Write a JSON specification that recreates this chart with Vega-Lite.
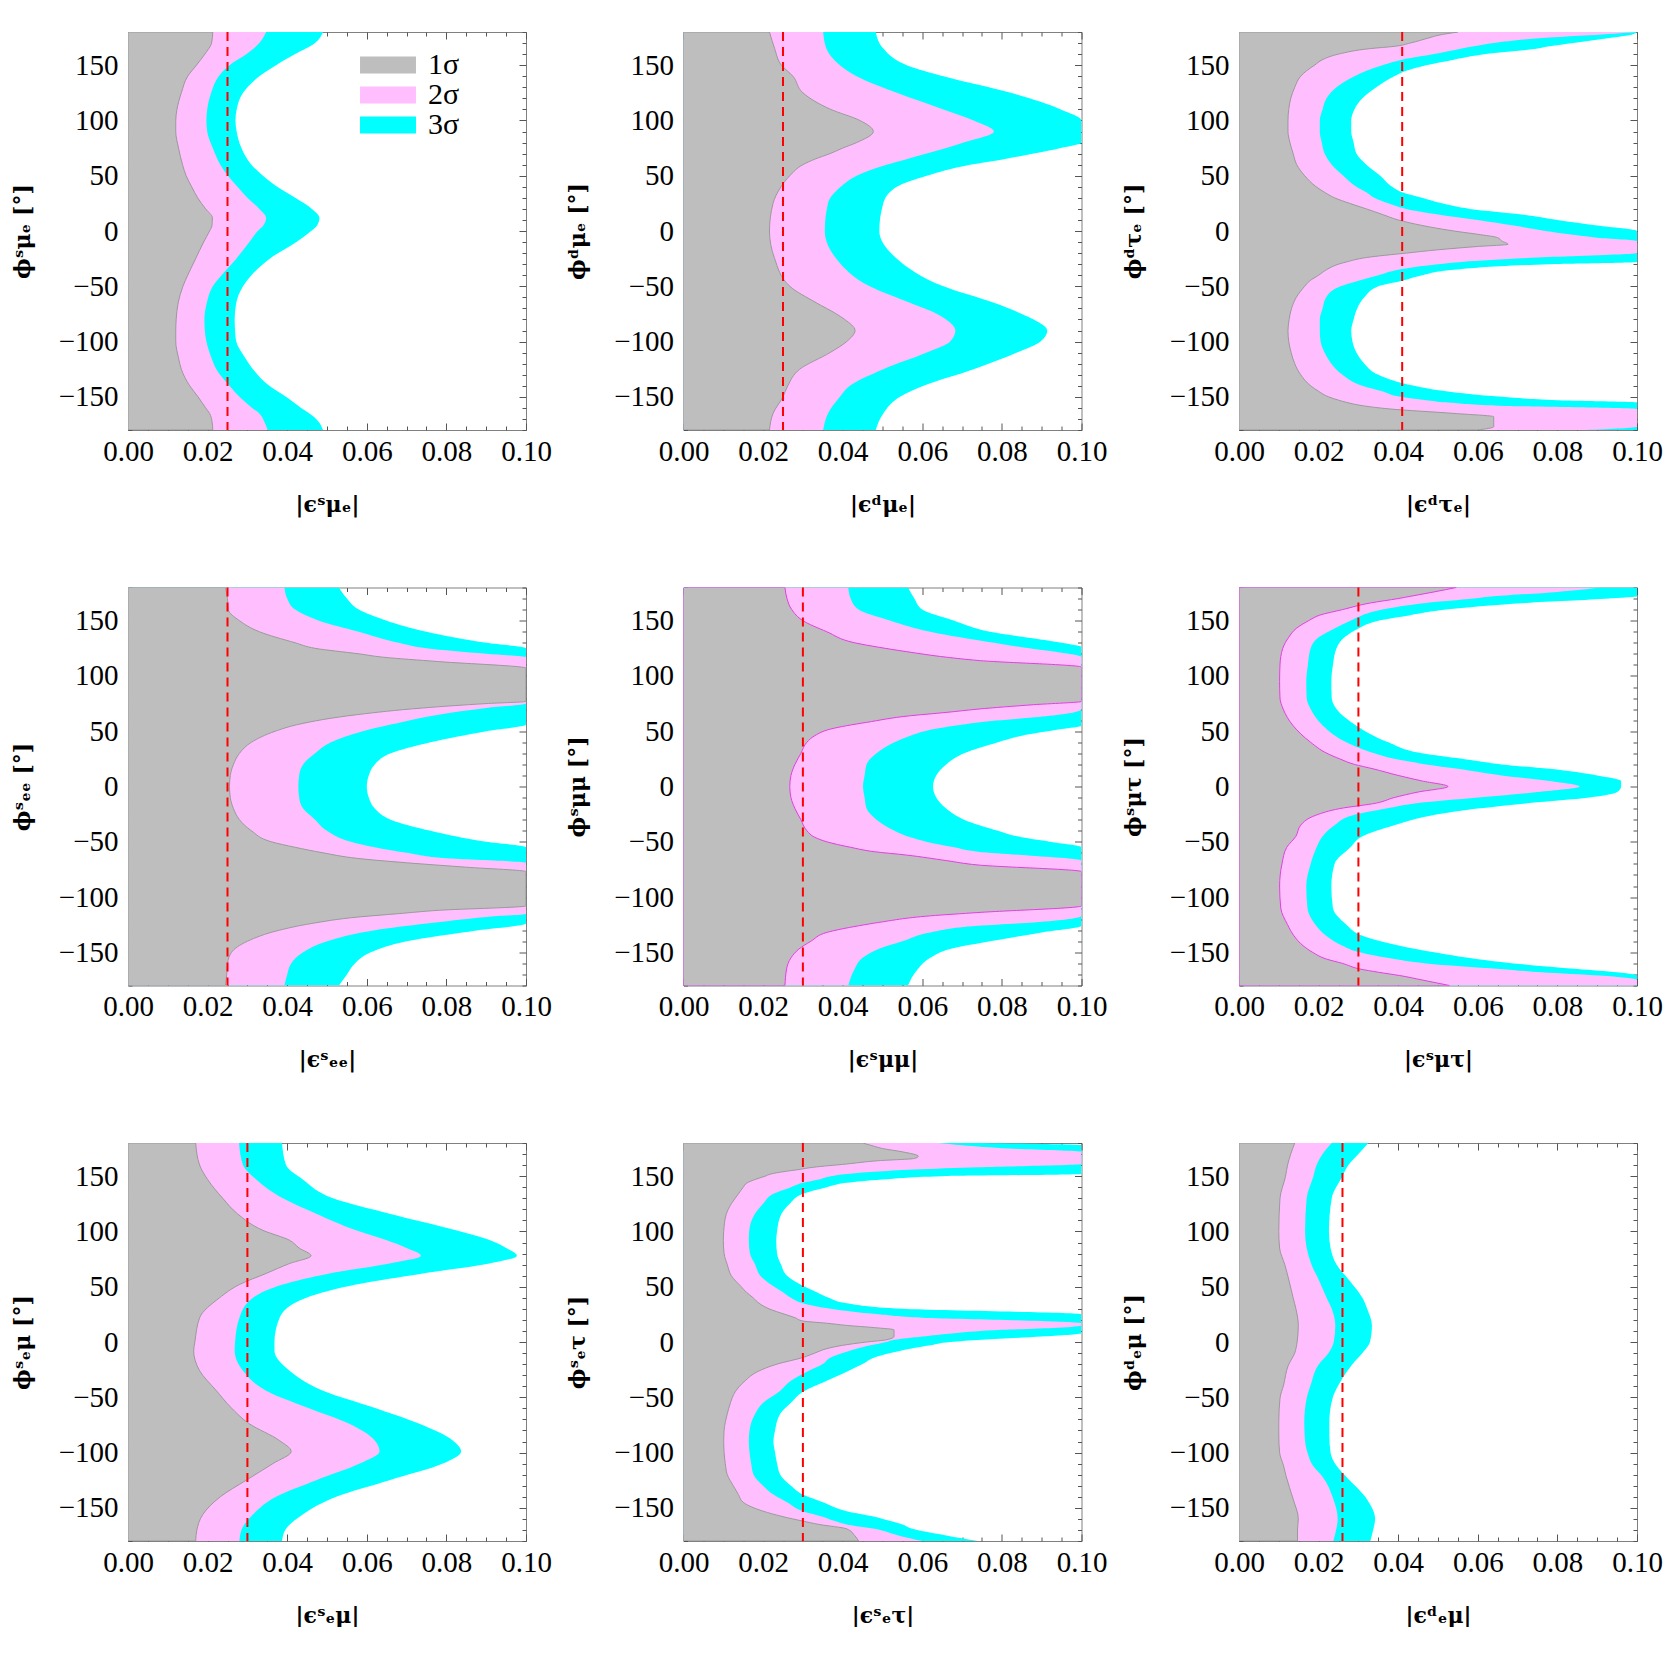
{
"$schema": "https://vega.github.io/schema/vega-lite/v6.json",
"background": "white",
"padding": {"left": 10, "top": 30, "right": 0, "bottom": 0},
"autosize": {"type": "pad"},
"config": {
  "view": {"stroke": "#808080", "strokeWidth": 1},
  "axis": {"grid": false, "domain": false, "labelFont": "Liberation Serif", "labelFontSize": 29, "labelColor": "#000000", "titleFont": "DejaVu Serif", "titleFontSize": 22, "titleFontWeight": "bold", "titleColor": "#000000", "tickColor": "#555555", "tickWidth": 1},
  "area": {"interpolate": "monotone"}
},
"datasets": {
"lines": [{"p":1,"x":0.025},{"p":2,"x":0.025},{"p":3,"x":0.041},{"p":4,"x":0.025},{"p":5,"x":0.030},{"p":6,"x":0.030},{"p":7,"x":0.030},{"p":8,"x":0.030},{"p":9,"x":0.026}],
"bands": [
{"p":1,"y":180,"a":0.0213,"b":0.0347,"c":0.049},
{"p":1,"y":170,"a":0.021,"b":0.033,"c":0.047},
{"p":1,"y":160,"a":0.0193,"b":0.0298,"c":0.042},
{"p":1,"y":150,"a":0.0172,"b":0.0255,"c":0.0372},
{"p":1,"y":140,"a":0.015,"b":0.0228,"c":0.033},
{"p":1,"y":125,"a":0.0134,"b":0.0209,"c":0.0289},
{"p":1,"y":110,"a":0.0123,"b":0.0199,"c":0.0273},
{"p":1,"y":100,"a":0.012,"b":0.0197,"c":0.027},
{"p":1,"y":90,"a":0.012,"b":0.0199,"c":0.0273},
{"p":1,"y":75,"a":0.0127,"b":0.0213,"c":0.0285},
{"p":1,"y":60,"a":0.0137,"b":0.0232,"c":0.031},
{"p":1,"y":50,"a":0.0146,"b":0.0251,"c":0.0339},
{"p":1,"y":40,"a":0.016,"b":0.0275,"c":0.0375},
{"p":1,"y":30,"a":0.0175,"b":0.03,"c":0.042},
{"p":1,"y":20,"a":0.0195,"b":0.033,"c":0.0462},
{"p":1,"y":12,"a":0.0212,"b":0.0347,"c":0.0481},
{"p":1,"y":5,"a":0.0211,"b":0.034,"c":0.0475},
{"p":1,"y":0,"a":0.0205,"b":0.0326,"c":0.046},
{"p":1,"y":-10,"a":0.019,"b":0.0305,"c":0.0423},
{"p":1,"y":-25,"a":0.017,"b":0.0272,"c":0.0356},
{"p":1,"y":-40,"a":0.015,"b":0.0235,"c":0.031},
{"p":1,"y":-50,"a":0.0138,"b":0.0213,"c":0.0289},
{"p":1,"y":-65,"a":0.0126,"b":0.0198,"c":0.0272},
{"p":1,"y":-80,"a":0.0121,"b":0.0192,"c":0.0268},
{"p":1,"y":-90,"a":0.012,"b":0.0193,"c":0.0269},
{"p":1,"y":-100,"a":0.012,"b":0.0197,"c":0.0272},
{"p":1,"y":-115,"a":0.0127,"b":0.021,"c":0.0295},
{"p":1,"y":-125,"a":0.0134,"b":0.0222,"c":0.0314},
{"p":1,"y":-140,"a":0.0155,"b":0.0255,"c":0.0355},
{"p":1,"y":-150,"a":0.0176,"b":0.028,"c":0.0397},
{"p":1,"y":-160,"a":0.0195,"b":0.0312,"c":0.0435},
{"p":1,"y":-165,"a":0.0205,"b":0.033,"c":0.0456},
{"p":1,"y":-172,"a":0.0211,"b":0.0342,"c":0.0478},
{"p":1,"y":-180,"a":0.0213,"b":0.0351,"c":0.049},
{"p":2,"y":180,"a":0.0216,"b":0.0351,"c":0.0483},
{"p":2,"y":165,"a":0.0229,"b":0.0359,"c":0.0502},
{"p":2,"y":150,"a":0.0246,"b":0.0393,"c":0.0561},
{"p":2,"y":140,"a":0.0275,"b":0.0435,"c":0.0653},
{"p":2,"y":125,"a":0.03,"b":0.0536,"c":0.0822},
{"p":2,"y":110,"a":0.037,"b":0.0653,"c":0.0948},
{"p":2,"y":100,"a":0.0443,"b":0.0729,"c":0.1},
{"p":2,"y":90,"a":0.0477,"b":0.078,"c":0.1},
{"p":2,"y":80,"a":0.0435,"b":0.0704,"c":0.1},
{"p":2,"y":75,"a":0.04,"b":0.066,"c":0.0948},
{"p":2,"y":70,"a":0.0368,"b":0.0611,"c":0.088},
{"p":2,"y":65,"a":0.033,"b":0.056,"c":0.0805},
{"p":2,"y":60,"a":0.03,"b":0.051,"c":0.072},
{"p":2,"y":50,"a":0.0267,"b":0.0435,"c":0.0611},
{"p":2,"y":40,"a":0.0245,"b":0.0395,"c":0.0536},
{"p":2,"y":25,"a":0.0225,"b":0.0363,"c":0.0502},
{"p":2,"y":0,"a":0.0216,"b":0.0355,"c":0.0492},
{"p":2,"y":-25,"a":0.0229,"b":0.0384,"c":0.0536},
{"p":2,"y":-50,"a":0.0267,"b":0.0468,"c":0.0653},
{"p":2,"y":-65,"a":0.0334,"b":0.0569,"c":0.078},
{"p":2,"y":-75,"a":0.0384,"b":0.0637,"c":0.085},
{"p":2,"y":-80,"a":0.0405,"b":0.066,"c":0.088},
{"p":2,"y":-90,"a":0.0431,"b":0.0683,"c":0.0914},
{"p":2,"y":-100,"a":0.041,"b":0.067,"c":0.0897},
{"p":2,"y":-110,"a":0.0368,"b":0.0611,"c":0.0838},
{"p":2,"y":-125,"a":0.0292,"b":0.0502,"c":0.0729},
{"p":2,"y":-140,"a":0.0262,"b":0.0418,"c":0.0603},
{"p":2,"y":-150,"a":0.025,"b":0.0393,"c":0.0544},
{"p":2,"y":-165,"a":0.0225,"b":0.0363,"c":0.0502},
{"p":2,"y":-180,"a":0.0216,"b":0.0351,"c":0.0483},
{"p":3,"y":180,"a":0.055,"b":0.1,"c":0.1},
{"p":3,"y":177,"a":0.05,"b":0.088,"c":0.098},
{"p":3,"y":175,"a":0.048,"b":0.078,"c":0.094},
{"p":3,"y":170,"a":0.043,"b":0.064,"c":0.084},
{"p":3,"y":167,"a":0.039,"b":0.059,"c":0.078},
{"p":3,"y":165,"a":0.033,"b":0.056,"c":0.075},
{"p":3,"y":160,"a":0.025,"b":0.049,"c":0.062},
{"p":3,"y":155,"a":0.021,"b":0.041,"c":0.054},
{"p":3,"y":150,"a":0.019,"b":0.036,"c":0.047},
{"p":3,"y":145,"a":0.017,"b":0.032,"c":0.042},
{"p":3,"y":140,"a":0.0155,"b":0.029,"c":0.039},
{"p":3,"y":130,"a":0.014,"b":0.0245,"c":0.0345},
{"p":3,"y":120,"a":0.013,"b":0.022,"c":0.031},
{"p":3,"y":110,"a":0.0125,"b":0.021,"c":0.029},
{"p":3,"y":100,"a":0.0123,"b":0.0203,"c":0.0282},
{"p":3,"y":90,"a":0.0123,"b":0.0203,"c":0.0282},
{"p":3,"y":80,"a":0.0128,"b":0.0208,"c":0.0288},
{"p":3,"y":70,"a":0.0136,"b":0.0215,"c":0.0295},
{"p":3,"y":60,"a":0.0145,"b":0.0233,"c":0.032},
{"p":3,"y":50,"a":0.0165,"b":0.0262,"c":0.0355},
{"p":3,"y":40,"a":0.0194,"b":0.0295,"c":0.0385},
{"p":3,"y":35,"a":0.0215,"b":0.032,"c":0.041},
{"p":3,"y":30,"a":0.024,"b":0.034,"c":0.046},
{"p":3,"y":25,"a":0.0278,"b":0.0375,"c":0.051},
{"p":3,"y":20,"a":0.032,"b":0.042,"c":0.058},
{"p":3,"y":15,"a":0.036,"b":0.05,"c":0.071},
{"p":3,"y":10,"a":0.04,"b":0.06,"c":0.08},
{"p":3,"y":5,"a":0.046,"b":0.069,"c":0.09},
{"p":3,"y":0,"a":0.054,"b":0.077,"c":0.1},
{"p":3,"y":-3,"a":0.06,"b":0.083,"c":0.1},
{"p":3,"y":-6,"a":0.065,"b":0.09,"c":0.1},
{"p":3,"y":-9,"a":0.066,"b":0.1,"c":0.1},
{"p":3,"y":-12,"a":0.0676,"b":0.1,"c":0.1},
{"p":3,"y":-14,"a":0.06,"b":0.1,"c":0.1},
{"p":3,"y":-17,"a":0.05,"b":0.1,"c":0.1},
{"p":3,"y":-20,"a":0.042,"b":0.1,"c":0.1},
{"p":3,"y":-24,"a":0.032,"b":0.075,"c":0.1},
{"p":3,"y":-28,"a":0.027,"b":0.056,"c":0.1},
{"p":3,"y":-30,"a":0.025,"b":0.05,"c":0.078},
{"p":3,"y":-35,"a":0.022,"b":0.04,"c":0.054},
{"p":3,"y":-40,"a":0.02,"b":0.035,"c":0.046},
{"p":3,"y":-45,"a":0.0178,"b":0.03,"c":0.041},
{"p":3,"y":-50,"a":0.0165,"b":0.0255,"c":0.035},
{"p":3,"y":-60,"a":0.0144,"b":0.0219,"c":0.0315},
{"p":3,"y":-70,"a":0.0132,"b":0.021,"c":0.0297},
{"p":3,"y":-80,"a":0.0126,"b":0.0203,"c":0.0288},
{"p":3,"y":-90,"a":0.0123,"b":0.0203,"c":0.0282},
{"p":3,"y":-100,"a":0.0125,"b":0.0205,"c":0.0285},
{"p":3,"y":-110,"a":0.0131,"b":0.0215,"c":0.0295},
{"p":3,"y":-120,"a":0.014,"b":0.0232,"c":0.0315},
{"p":3,"y":-130,"a":0.0155,"b":0.026,"c":0.035},
{"p":3,"y":-140,"a":0.018,"b":0.031,"c":0.044},
{"p":3,"y":-145,"a":0.02,"b":0.036,"c":0.052},
{"p":3,"y":-150,"a":0.0225,"b":0.0405,"c":0.066},
{"p":3,"y":-153,"a":0.025,"b":0.047,"c":0.08},
{"p":3,"y":-155,"a":0.027,"b":0.052,"c":0.1},
{"p":3,"y":-158,"a":0.031,"b":0.065,"c":0.1},
{"p":3,"y":-161,"a":0.038,"b":0.1,"c":0.1},
{"p":3,"y":-165,"a":0.054,"b":0.1,"c":0.1},
{"p":3,"y":-168,"a":0.064,"b":0.1,"c":0.1},
{"p":3,"y":-177,"a":0.064,"b":0.1,"c":0.1},
{"p":3,"y":-180,"a":0.06,"b":0.087,"c":0.1},
{"p":4,"y":180,"a":0.0245,"b":0.0393,"c":0.053},
{"p":4,"y":170,"a":0.025,"b":0.04,"c":0.055},
{"p":4,"y":160,"a":0.0252,"b":0.042,"c":0.058},
{"p":4,"y":150,"a":0.028,"b":0.048,"c":0.065},
{"p":4,"y":140,"a":0.033,"b":0.058,"c":0.075},
{"p":4,"y":130,"a":0.042,"b":0.068,"c":0.09},
{"p":4,"y":125,"a":0.047,"b":0.075,"c":0.1},
{"p":4,"y":120,"a":0.058,"b":0.09,"c":0.1},
{"p":4,"y":117,"a":0.064,"b":0.1,"c":0.1},
{"p":4,"y":113,"a":0.078,"b":0.1,"c":0.1},
{"p":4,"y":107,"a":0.1,"b":0.1,"c":0.1},
{"p":4,"y":77,"a":0.1,"b":0.1,"c":0.1},
{"p":4,"y":75,"a":0.09,"b":0.1,"c":0.1},
{"p":4,"y":71,"a":0.074,"b":0.09,"c":0.1},
{"p":4,"y":65,"a":0.0576,"b":0.078,"c":0.1},
{"p":4,"y":56,"a":0.0426,"b":0.066,"c":0.1},
{"p":4,"y":50,"a":0.037,"b":0.059,"c":0.09},
{"p":4,"y":40,"a":0.031,"b":0.051,"c":0.076},
{"p":4,"y":30,"a":0.028,"b":0.047,"c":0.066},
{"p":4,"y":20,"a":0.0265,"b":0.044,"c":0.062},
{"p":4,"y":10,"a":0.0257,"b":0.043,"c":0.0605},
{"p":4,"y":0,"a":0.0255,"b":0.0428,"c":0.06},
{"p":4,"y":-10,"a":0.0257,"b":0.043,"c":0.0605},
{"p":4,"y":-20,"a":0.0265,"b":0.044,"c":0.062},
{"p":4,"y":-30,"a":0.028,"b":0.047,"c":0.066},
{"p":4,"y":-40,"a":0.031,"b":0.05,"c":0.076},
{"p":4,"y":-50,"a":0.036,"b":0.056,"c":0.09},
{"p":4,"y":-55,"a":0.042,"b":0.062,"c":0.1},
{"p":4,"y":-60,"a":0.049,"b":0.07,"c":0.1},
{"p":4,"y":-65,"a":0.0576,"b":0.08,"c":0.1},
{"p":4,"y":-69,"a":0.07,"b":0.1,"c":0.1},
{"p":4,"y":-73,"a":0.085,"b":0.1,"c":0.1},
{"p":4,"y":-77,"a":0.1,"b":0.1,"c":0.1},
{"p":4,"y":-108,"a":0.1,"b":0.1,"c":0.1},
{"p":4,"y":-112,"a":0.078,"b":0.1,"c":0.1},
{"p":4,"y":-115,"a":0.068,"b":0.1,"c":0.1},
{"p":4,"y":-118,"a":0.058,"b":0.09,"c":0.1},
{"p":4,"y":-124,"a":0.046,"b":0.075,"c":0.1},
{"p":4,"y":-130,"a":0.038,"b":0.062,"c":0.088},
{"p":4,"y":-140,"a":0.03,"b":0.05,"c":0.07},
{"p":4,"y":-150,"a":0.026,"b":0.044,"c":0.061},
{"p":4,"y":-160,"a":0.025,"b":0.041,"c":0.057},
{"p":4,"y":-170,"a":0.0248,"b":0.04,"c":0.055},
{"p":4,"y":-180,"a":0.0245,"b":0.0393,"c":0.053},
{"p":5,"y":180,"a":0.0255,"b":0.0414,"c":0.0564},
{"p":5,"y":170,"a":0.026,"b":0.042,"c":0.058},
{"p":5,"y":160,"a":0.0272,"b":0.044,"c":0.06},
{"p":5,"y":150,"a":0.03,"b":0.052,"c":0.068},
{"p":5,"y":140,"a":0.036,"b":0.062,"c":0.077},
{"p":5,"y":130,"a":0.043,"b":0.078,"c":0.095},
{"p":5,"y":126,"a":0.049,"b":0.085,"c":0.1},
{"p":5,"y":122,"a":0.056,"b":0.093,"c":0.1},
{"p":5,"y":117,"a":0.066,"b":0.1,"c":0.1},
{"p":5,"y":114,"a":0.074,"b":0.1,"c":0.1},
{"p":5,"y":108,"a":0.1,"b":0.1,"c":0.1},
{"p":5,"y":77,"a":0.1,"b":0.1,"c":0.1},
{"p":5,"y":74,"a":0.088,"b":0.1,"c":0.1},
{"p":5,"y":70,"a":0.074,"b":0.1,"c":0.1},
{"p":5,"y":67,"a":0.066,"b":0.098,"c":0.1},
{"p":5,"y":64,"a":0.057,"b":0.092,"c":0.1},
{"p":5,"y":58,"a":0.046,"b":0.074,"c":0.1},
{"p":5,"y":55,"a":0.041,"b":0.068,"c":0.1},
{"p":5,"y":52,"a":0.037,"b":0.063,"c":0.095},
{"p":5,"y":46,"a":0.033,"b":0.057,"c":0.085},
{"p":5,"y":40,"a":0.031,"b":0.053,"c":0.079},
{"p":5,"y":30,"a":0.0295,"b":0.0485,"c":0.0705},
{"p":5,"y":20,"a":0.028,"b":0.046,"c":0.066},
{"p":5,"y":10,"a":0.027,"b":0.0455,"c":0.0635},
{"p":5,"y":0,"a":0.0267,"b":0.0451,"c":0.0627},
{"p":5,"y":-10,"a":0.027,"b":0.0455,"c":0.0635},
{"p":5,"y":-20,"a":0.028,"b":0.046,"c":0.066},
{"p":5,"y":-30,"a":0.0295,"b":0.0485,"c":0.0705},
{"p":5,"y":-40,"a":0.031,"b":0.053,"c":0.079},
{"p":5,"y":-46,"a":0.033,"b":0.057,"c":0.085},
{"p":5,"y":-50,"a":0.036,"b":0.061,"c":0.092},
{"p":5,"y":-55,"a":0.042,"b":0.068,"c":0.1},
{"p":5,"y":-59,"a":0.048,"b":0.074,"c":0.1},
{"p":5,"y":-62,"a":0.056,"b":0.085,"c":0.1},
{"p":5,"y":-67,"a":0.066,"b":0.1,"c":0.1},
{"p":5,"y":-71,"a":0.074,"b":0.1,"c":0.1},
{"p":5,"y":-77,"a":0.1,"b":0.1,"c":0.1},
{"p":5,"y":-108,"a":0.1,"b":0.1,"c":0.1},
{"p":5,"y":-114,"a":0.074,"b":0.1,"c":0.1},
{"p":5,"y":-117,"a":0.062,"b":0.1,"c":0.1},
{"p":5,"y":-123,"a":0.049,"b":0.088,"c":0.1},
{"p":5,"y":-126,"a":0.044,"b":0.074,"c":0.1},
{"p":5,"y":-132,"a":0.036,"b":0.062,"c":0.09},
{"p":5,"y":-140,"a":0.032,"b":0.055,"c":0.077},
{"p":5,"y":-147,"a":0.029,"b":0.049,"c":0.067},
{"p":5,"y":-155,"a":0.027,"b":0.045,"c":0.062},
{"p":5,"y":-165,"a":0.0259,"b":0.043,"c":0.0589},
{"p":5,"y":-180,"a":0.0255,"b":0.0414,"c":0.0564},
{"p":6,"y":180,"a":0.0546,"b":0.091,"c":0.1},
{"p":6,"y":176,"a":0.049,"b":0.08,"c":0.1},
{"p":6,"y":172,"a":0.043,"b":0.064,"c":0.1},
{"p":6,"y":170,"a":0.04,"b":0.059,"c":0.093},
{"p":6,"y":166,"a":0.033,"b":0.047,"c":0.072},
{"p":6,"y":160,"a":0.026,"b":0.036,"c":0.052},
{"p":6,"y":155,"a":0.0203,"b":0.031,"c":0.043},
{"p":6,"y":150,"a":0.0175,"b":0.028,"c":0.035},
{"p":6,"y":143,"a":0.0144,"b":0.024,"c":0.03},
{"p":6,"y":135,"a":0.0125,"b":0.02,"c":0.0265},
{"p":6,"y":125,"a":0.011,"b":0.018,"c":0.0245},
{"p":6,"y":110,"a":0.0103,"b":0.0173,"c":0.0236},
{"p":6,"y":95,"a":0.0102,"b":0.0169,"c":0.0232},
{"p":6,"y":80,"a":0.0103,"b":0.017,"c":0.0233},
{"p":6,"y":70,"a":0.0111,"b":0.018,"c":0.0245},
{"p":6,"y":55,"a":0.0136,"b":0.0211,"c":0.0295},
{"p":6,"y":40,"a":0.018,"b":0.027,"c":0.0375},
{"p":6,"y":30,"a":0.0221,"b":0.034,"c":0.046},
{"p":6,"y":25,"a":0.0253,"b":0.039,"c":0.056},
{"p":6,"y":20,"a":0.029,"b":0.047,"c":0.066},
{"p":6,"y":16,"a":0.0337,"b":0.055,"c":0.078},
{"p":6,"y":10,"a":0.04,"b":0.066,"c":0.09},
{"p":6,"y":5,"a":0.046,"b":0.078,"c":0.096},
{"p":6,"y":0,"a":0.0525,"b":0.0856,"c":0.096},
{"p":6,"y":-5,"a":0.045,"b":0.075,"c":0.095},
{"p":6,"y":-10,"a":0.039,"b":0.06,"c":0.088},
{"p":6,"y":-15,"a":0.0345,"b":0.045,"c":0.073},
{"p":6,"y":-20,"a":0.0253,"b":0.037,"c":0.06},
{"p":6,"y":-26,"a":0.0193,"b":0.0286,"c":0.0487},
{"p":6,"y":-35,"a":0.0155,"b":0.024,"c":0.039},
{"p":6,"y":-45,"a":0.0143,"b":0.021,"c":0.031},
{"p":6,"y":-55,"a":0.012,"b":0.0195,"c":0.028},
{"p":6,"y":-70,"a":0.0108,"b":0.018,"c":0.024},
{"p":6,"y":-90,"a":0.0102,"b":0.0169,"c":0.0232},
{"p":6,"y":-110,"a":0.0105,"b":0.0172,"c":0.0236},
{"p":6,"y":-125,"a":0.0122,"b":0.0192,"c":0.027},
{"p":6,"y":-135,"a":0.0138,"b":0.0219,"c":0.031},
{"p":6,"y":-144,"a":0.0161,"b":0.026,"c":0.0404},
{"p":6,"y":-150,"a":0.0185,"b":0.0303,"c":0.049},
{"p":6,"y":-156,"a":0.0219,"b":0.039,"c":0.0596},
{"p":6,"y":-160,"a":0.026,"b":0.047,"c":0.069},
{"p":6,"y":-165,"a":0.0303,"b":0.0655,"c":0.085},
{"p":6,"y":-168,"a":0.035,"b":0.076,"c":0.095},
{"p":6,"y":-171,"a":0.0404,"b":0.0906,"c":0.1},
{"p":6,"y":-175,"a":0.046,"b":0.1,"c":0.1},
{"p":6,"y":-180,"a":0.0529,"b":0.1,"c":0.1},
{"p":7,"y":180,"a":0.017,"b":0.0279,"c":0.0387},
{"p":7,"y":160,"a":0.018,"b":0.0289,"c":0.0397},
{"p":7,"y":147,"a":0.02,"b":0.0322,"c":0.0439},
{"p":7,"y":130,"a":0.0238,"b":0.0389,"c":0.0515},
{"p":7,"y":116,"a":0.0275,"b":0.0473,"c":0.0657},
{"p":7,"y":101,"a":0.0339,"b":0.0573,"c":0.0824},
{"p":7,"y":92,"a":0.0406,"b":0.065,"c":0.091},
{"p":7,"y":85,"a":0.043,"b":0.07,"c":0.095},
{"p":7,"y":78,"a":0.046,"b":0.0736,"c":0.0977},
{"p":7,"y":71,"a":0.0406,"b":0.0657,"c":0.0908},
{"p":7,"y":62,"a":0.0347,"b":0.0506,"c":0.0741},
{"p":7,"y":52,"a":0.028,"b":0.0389,"c":0.0573},
{"p":7,"y":40,"a":0.023,"b":0.0314,"c":0.0448},
{"p":7,"y":22,"a":0.018,"b":0.028,"c":0.0381},
{"p":7,"y":0,"a":0.0168,"b":0.0269,"c":0.0368},
{"p":7,"y":-8,"a":0.0165,"b":0.0268,"c":0.0368},
{"p":7,"y":-26,"a":0.018,"b":0.0289,"c":0.0406},
{"p":7,"y":-44,"a":0.0222,"b":0.0347,"c":0.049},
{"p":7,"y":-59,"a":0.0258,"b":0.0448,"c":0.0615},
{"p":7,"y":-74,"a":0.0305,"b":0.0556,"c":0.0732},
{"p":7,"y":-89,"a":0.038,"b":0.062,"c":0.0816},
{"p":7,"y":-99,"a":0.041,"b":0.0632,"c":0.0837},
{"p":7,"y":-110,"a":0.0364,"b":0.0582,"c":0.0791},
{"p":7,"y":-125,"a":0.0297,"b":0.0473,"c":0.0657},
{"p":7,"y":-140,"a":0.0232,"b":0.0372,"c":0.0523},
{"p":7,"y":-156,"a":0.0188,"b":0.0314,"c":0.0439},
{"p":7,"y":-170,"a":0.0173,"b":0.0285,"c":0.0395},
{"p":7,"y":-180,"a":0.017,"b":0.028,"c":0.0387},
{"p":8,"y":180,"a":0.045,"b":0.064,"c":0.075},
{"p":8,"y":178,"a":0.047,"b":0.07,"c":0.1},
{"p":8,"y":175,"a":0.05,"b":0.082,"c":0.1},
{"p":8,"y":172,"a":0.055,"b":0.1,"c":0.1},
{"p":8,"y":168,"a":0.059,"b":0.1,"c":0.1},
{"p":8,"y":166,"a":0.058,"b":0.1,"c":0.1},
{"p":8,"y":164,"a":0.049,"b":0.1,"c":0.1},
{"p":8,"y":161,"a":0.041,"b":0.1,"c":0.1},
{"p":8,"y":158,"a":0.0325,"b":0.074,"c":0.1},
{"p":8,"y":156,"a":0.029,"b":0.058,"c":0.1},
{"p":8,"y":154,"a":0.025,"b":0.048,"c":0.1},
{"p":8,"y":152,"a":0.022,"b":0.041,"c":0.1},
{"p":8,"y":150,"a":0.0205,"b":0.037,"c":0.065},
{"p":8,"y":147,"a":0.018,"b":0.034,"c":0.05},
{"p":8,"y":144,"a":0.016,"b":0.03,"c":0.041},
{"p":8,"y":140,"a":0.015,"b":0.027,"c":0.036},
{"p":8,"y":134,"a":0.0138,"b":0.0226,"c":0.03},
{"p":8,"y":125,"a":0.012,"b":0.02,"c":0.0267},
{"p":8,"y":115,"a":0.0107,"b":0.0178,"c":0.0245},
{"p":8,"y":100,"a":0.0101,"b":0.0165,"c":0.0235},
{"p":8,"y":92,"a":0.01,"b":0.0164,"c":0.0233},
{"p":8,"y":80,"a":0.0102,"b":0.0167,"c":0.0235},
{"p":8,"y":70,"a":0.011,"b":0.018,"c":0.0245},
{"p":8,"y":60,"a":0.012,"b":0.0193,"c":0.026},
{"p":8,"y":50,"a":0.0145,"b":0.0228,"c":0.0305},
{"p":8,"y":45,"a":0.0158,"b":0.025,"c":0.0335},
{"p":8,"y":40,"a":0.0175,"b":0.027,"c":0.0365},
{"p":8,"y":35,"a":0.019,"b":0.03,"c":0.041},
{"p":8,"y":30,"a":0.0215,"b":0.037,"c":0.055},
{"p":8,"y":25,"a":0.0255,"b":0.049,"c":0.1},
{"p":8,"y":22,"a":0.028,"b":0.06,"c":0.1},
{"p":8,"y":19,"a":0.03,"b":0.09,"c":0.1},
{"p":8,"y":17,"a":0.036,"b":0.1,"c":0.1},
{"p":8,"y":15,"a":0.041,"b":0.1,"c":0.1},
{"p":8,"y":13,"a":0.048,"b":0.094,"c":0.1},
{"p":8,"y":11,"a":0.0529,"b":0.08,"c":0.1},
{"p":8,"y":8,"a":0.0529,"b":0.068,"c":0.1},
{"p":8,"y":5,"a":0.0529,"b":0.06,"c":0.09},
{"p":8,"y":2,"a":0.051,"b":0.053,"c":0.075},
{"p":8,"y":0,"a":0.046,"b":0.051,"c":0.067},
{"p":8,"y":-3,"a":0.04,"b":0.047,"c":0.062},
{"p":8,"y":-6,"a":0.036,"b":0.0435,"c":0.057},
{"p":8,"y":-10,"a":0.033,"b":0.04,"c":0.052},
{"p":8,"y":-14,"a":0.03,"b":0.037,"c":0.048},
{"p":8,"y":-20,"a":0.0235,"b":0.035,"c":0.045},
{"p":8,"y":-27,"a":0.0185,"b":0.031,"c":0.041},
{"p":8,"y":-35,"a":0.0155,"b":0.027,"c":0.036},
{"p":8,"y":-45,"a":0.013,"b":0.024,"c":0.03},
{"p":8,"y":-55,"a":0.0118,"b":0.02,"c":0.027},
{"p":8,"y":-65,"a":0.011,"b":0.018,"c":0.0243},
{"p":8,"y":-80,"a":0.0102,"b":0.0166,"c":0.023},
{"p":8,"y":-90,"a":0.0101,"b":0.0164,"c":0.0226},
{"p":8,"y":-100,"a":0.0102,"b":0.0166,"c":0.023},
{"p":8,"y":-110,"a":0.0105,"b":0.017,"c":0.0235},
{"p":8,"y":-120,"a":0.011,"b":0.0176,"c":0.0243},
{"p":8,"y":-130,"a":0.0125,"b":0.02,"c":0.027},
{"p":8,"y":-138,"a":0.0138,"b":0.0226,"c":0.03},
{"p":8,"y":-145,"a":0.015,"b":0.026,"c":0.035},
{"p":8,"y":-153,"a":0.02,"b":0.03,"c":0.041},
{"p":8,"y":-158,"a":0.025,"b":0.035,"c":0.048},
{"p":8,"y":-162,"a":0.03,"b":0.038,"c":0.052},
{"p":8,"y":-165,"a":0.034,"b":0.041,"c":0.055},
{"p":8,"y":-169,"a":0.041,"b":0.048,"c":0.0575},
{"p":8,"y":-175,"a":0.043,"b":0.054,"c":0.066},
{"p":8,"y":-180,"a":0.044,"b":0.06,"c":0.074},
{"p":9,"y":180,"a":0.014,"b":0.0233,"c":0.0325},
{"p":9,"y":170,"a":0.013,"b":0.021,"c":0.03},
{"p":9,"y":160,"a":0.0122,"b":0.0195,"c":0.0275},
{"p":9,"y":150,"a":0.0117,"b":0.0187,"c":0.026},
{"p":9,"y":130,"a":0.0103,"b":0.017,"c":0.0233},
{"p":9,"y":100,"a":0.01,"b":0.0166,"c":0.0226},
{"p":9,"y":85,"a":0.0102,"b":0.017,"c":0.023},
{"p":9,"y":70,"a":0.0115,"b":0.0182,"c":0.0245},
{"p":9,"y":55,"a":0.0126,"b":0.0202,"c":0.0279},
{"p":9,"y":40,"a":0.0136,"b":0.022,"c":0.031},
{"p":9,"y":30,"a":0.0143,"b":0.0233,"c":0.0322},
{"p":9,"y":15,"a":0.0149,"b":0.0242,"c":0.0334},
{"p":9,"y":0,"a":0.0146,"b":0.0238,"c":0.0329},
{"p":9,"y":-10,"a":0.014,"b":0.0225,"c":0.031},
{"p":9,"y":-21,"a":0.0124,"b":0.0199,"c":0.0283},
{"p":9,"y":-39,"a":0.0112,"b":0.018,"c":0.025},
{"p":9,"y":-51,"a":0.0103,"b":0.017,"c":0.0235},
{"p":9,"y":-72,"a":0.01,"b":0.0164,"c":0.0227},
{"p":9,"y":-85,"a":0.01,"b":0.0165,"c":0.0227},
{"p":9,"y":-100,"a":0.0102,"b":0.0172,"c":0.023},
{"p":9,"y":-112,"a":0.0112,"b":0.0186,"c":0.0245},
{"p":9,"y":-121,"a":0.0118,"b":0.0208,"c":0.0267},
{"p":9,"y":-142,"a":0.0136,"b":0.0237,"c":0.0321},
{"p":9,"y":-160,"a":0.0149,"b":0.0248,"c":0.0342},
{"p":9,"y":-170,"a":0.0147,"b":0.0244,"c":0.0337},
{"p":9,"y":-180,"a":0.0147,"b":0.0237,"c":0.033}
]
},
"columns": 3,
"bounds": "flush",
"spacing": {"row": 157.5, "column": 157.5},
"concat": [
{"width": 398, "height": 398, "resolve": {"axis": {"x": "independent", "y": "independent"}},
 "layer": [
  {"data": {"name": "bands"}, "transform": [{"filter": "datum.p == 1"}], "mark": {"type": "area", "orient": "horizontal", "clip": true},
   "encoding": {"y": {"field": "y", "type": "quantitative", "scale": {"domain": [-180,180], "nice": false}, "axis": {"orient":"left","values":[-150,-100,-50,0,50,100,150],"ticks":false,"domain":false,"labelPadding":10,"labelFlush":false,"labelOverlap":false,"title":"ϕˢμₑ [°]","titlePadding":24}},
    "x": {"field": "c", "type": "quantitative", "stack": null, "scale": {"domain": [0,0.1], "nice": false}, "axis": {"orient":"bottom","values":[0,0.02,0.04,0.06,0.08,0.1],"format":".2f","ticks":false,"domain":false,"labelPadding":7,"labelFlush":false,"labelOverlap":false,"title":"|ϵˢμₑ|","titlePadding":28}},
    "color": {"datum": "3σ", "scale": {"domain": ["1σ","2σ","3σ"], "range": ["#bebebe","#ffbfff","#00ffff"]}, "legend": {"orient": "none", "legendX": 245, "legendY": 18, "title": null, "padding": 0, "symbolType": "M-3,-0.9H3V0.9H-3Z", "symbolSize": 348, "symbolStrokeWidth": 0, "symbolOpacity": 1, "labelFont": "Liberation Serif", "labelFontSize": 30, "labelColor": "#000000", "labelOffset": 25, "rowPadding": 0}}}},
  {"data": {"name": "bands"}, "transform": [{"filter": "datum.p == 1"}], "mark": {"type": "area", "orient": "horizontal", "clip": true},
   "encoding": {"y": {"field": "y", "type": "quantitative", "scale": {"domain": [-180,180], "nice": false}, "axis": {"orient":"left","values":[-180,-170,-160,-150,-140,-130,-120,-110,-100,-90,-80,-70,-60,-50,-40,-30,-20,-10,0,10,20,30,40,50,60,70,80,90,100,110,120,130,140,150,160,170,180],"labels":false,"domain":false,"title":null,"tickSize":{"condition":{"test":"datum.value % 50 == 0","value":-7},"value":-4}}},
    "x": {"field": "b", "type": "quantitative", "stack": null, "scale": {"domain": [0,0.1], "nice": false}, "axis": {"orient":"bottom","values":[0,0.005,0.01,0.015,0.02,0.025,0.03,0.035,0.04,0.045,0.05,0.055,0.06,0.065,0.07,0.075,0.08,0.085,0.09,0.095,0.1],"labels":false,"domain":false,"title":null,"tickSize":{"condition":{"test":"round(datum.value*1000) % 20 == 0","value":-7},"value":-4}}},
    "color": {"datum": "2σ"}}},
  {"data": {"name": "bands"}, "transform": [{"filter": "datum.p == 1"}], "mark": {"type": "area", "orient": "horizontal", "clip": true, "stroke": "#9a9a9a", "strokeWidth": 1},
   "encoding": {"y": {"field": "y", "type": "quantitative", "scale": {"domain": [-180,180], "nice": false}, "axis": {"orient":"right","values":[-180,-170,-160,-150,-140,-130,-120,-110,-100,-90,-80,-70,-60,-50,-40,-30,-20,-10,0,10,20,30,40,50,60,70,80,90,100,110,120,130,140,150,160,170,180],"labels":false,"domain":false,"title":null,"tickSize":{"condition":{"test":"datum.value % 50 == 0","value":-7},"value":-4}}},
    "x": {"field": "a", "type": "quantitative", "stack": null, "scale": {"domain": [0,0.1], "nice": false}, "axis": {"orient":"top","values":[0,0.005,0.01,0.015,0.02,0.025,0.03,0.035,0.04,0.045,0.05,0.055,0.06,0.065,0.07,0.075,0.08,0.085,0.09,0.095,0.1],"labels":false,"domain":false,"title":null,"tickSize":{"condition":{"test":"round(datum.value*1000) % 20 == 0","value":-7},"value":-4}}},
    "color": {"datum": "1σ"}}},
  {"data": {"name": "lines"}, "transform": [{"filter": "datum.p == 1"}], "mark": {"type": "rule", "color": "#ff0000", "strokeDash": [9,6], "strokeWidth": 2},
   "encoding": {"x": {"field": "x", "type": "quantitative", "scale": {"domain": [0,0.1], "nice": false}, "axis": null}}}
 ]},
{"width": 398, "height": 398, "resolve": {"axis": {"x": "independent", "y": "independent"}},
 "layer": [
  {"data": {"name": "bands"}, "transform": [{"filter": "datum.p == 2"}], "mark": {"type": "area", "orient": "horizontal", "clip": true, "color": "#00ffff"},
   "encoding": {"y": {"field": "y", "type": "quantitative", "scale": {"domain": [-180,180], "nice": false}, "axis": {"orient":"left","values":[-150,-100,-50,0,50,100,150],"ticks":false,"domain":false,"labelPadding":10,"labelFlush":false,"labelOverlap":false,"title":"ϕᵈμₑ [°]","titlePadding":24}},
    "x": {"field": "c", "type": "quantitative", "stack": null, "scale": {"domain": [0,0.1], "nice": false}, "axis": {"orient":"bottom","values":[0,0.02,0.04,0.06,0.08,0.1],"format":".2f","ticks":false,"domain":false,"labelPadding":7,"labelFlush":false,"labelOverlap":false,"title":"|ϵᵈμₑ|","titlePadding":28}}}},
  {"data": {"name": "bands"}, "transform": [{"filter": "datum.p == 2"}], "mark": {"type": "area", "orient": "horizontal", "clip": true, "color": "#ffbfff"},
   "encoding": {"y": {"field": "y", "type": "quantitative", "scale": {"domain": [-180,180], "nice": false}, "axis": {"orient":"left","values":[-180,-170,-160,-150,-140,-130,-120,-110,-100,-90,-80,-70,-60,-50,-40,-30,-20,-10,0,10,20,30,40,50,60,70,80,90,100,110,120,130,140,150,160,170,180],"labels":false,"domain":false,"title":null,"tickSize":{"condition":{"test":"datum.value % 50 == 0","value":-7},"value":-4}}},
    "x": {"field": "b", "type": "quantitative", "stack": null, "scale": {"domain": [0,0.1], "nice": false}, "axis": {"orient":"bottom","values":[0,0.005,0.01,0.015,0.02,0.025,0.03,0.035,0.04,0.045,0.05,0.055,0.06,0.065,0.07,0.075,0.08,0.085,0.09,0.095,0.1],"labels":false,"domain":false,"title":null,"tickSize":{"condition":{"test":"round(datum.value*1000) % 20 == 0","value":-7},"value":-4}}}}},
  {"data": {"name": "bands"}, "transform": [{"filter": "datum.p == 2"}], "mark": {"type": "area", "orient": "horizontal", "clip": true, "color": "#bebebe", "stroke": "#9a9a9a", "strokeWidth": 1},
   "encoding": {"y": {"field": "y", "type": "quantitative", "scale": {"domain": [-180,180], "nice": false}, "axis": {"orient":"right","values":[-180,-170,-160,-150,-140,-130,-120,-110,-100,-90,-80,-70,-60,-50,-40,-30,-20,-10,0,10,20,30,40,50,60,70,80,90,100,110,120,130,140,150,160,170,180],"labels":false,"domain":false,"title":null,"tickSize":{"condition":{"test":"datum.value % 50 == 0","value":-7},"value":-4}}},
    "x": {"field": "a", "type": "quantitative", "stack": null, "scale": {"domain": [0,0.1], "nice": false}, "axis": {"orient":"top","values":[0,0.005,0.01,0.015,0.02,0.025,0.03,0.035,0.04,0.045,0.05,0.055,0.06,0.065,0.07,0.075,0.08,0.085,0.09,0.095,0.1],"labels":false,"domain":false,"title":null,"tickSize":{"condition":{"test":"round(datum.value*1000) % 20 == 0","value":-7},"value":-4}}}}},
  {"data": {"name": "lines"}, "transform": [{"filter": "datum.p == 2"}], "mark": {"type": "rule", "color": "#ff0000", "strokeDash": [9,6], "strokeWidth": 2},
   "encoding": {"x": {"field": "x", "type": "quantitative", "scale": {"domain": [0,0.1], "nice": false}, "axis": null}}}
 ]},
{"width": 398, "height": 398, "resolve": {"axis": {"x": "independent", "y": "independent"}},
 "layer": [
  {"data": {"name": "bands"}, "transform": [{"filter": "datum.p == 3"}], "mark": {"type": "area", "orient": "horizontal", "clip": true, "color": "#00ffff"},
   "encoding": {"y": {"field": "y", "type": "quantitative", "scale": {"domain": [-180,180], "nice": false}, "axis": {"orient":"left","values":[-150,-100,-50,0,50,100,150],"ticks":false,"domain":false,"labelPadding":10,"labelFlush":false,"labelOverlap":false,"title":"ϕᵈτₑ [°]","titlePadding":24}},
    "x": {"field": "c", "type": "quantitative", "stack": null, "scale": {"domain": [0,0.1], "nice": false}, "axis": {"orient":"bottom","values":[0,0.02,0.04,0.06,0.08,0.1],"format":".2f","ticks":false,"domain":false,"labelPadding":7,"labelFlush":false,"labelOverlap":false,"title":"|ϵᵈτₑ|","titlePadding":28}}}},
  {"data": {"name": "bands"}, "transform": [{"filter": "datum.p == 3"}], "mark": {"type": "area", "orient": "horizontal", "clip": true, "color": "#ffbfff"},
   "encoding": {"y": {"field": "y", "type": "quantitative", "scale": {"domain": [-180,180], "nice": false}, "axis": {"orient":"left","values":[-180,-170,-160,-150,-140,-130,-120,-110,-100,-90,-80,-70,-60,-50,-40,-30,-20,-10,0,10,20,30,40,50,60,70,80,90,100,110,120,130,140,150,160,170,180],"labels":false,"domain":false,"title":null,"tickSize":{"condition":{"test":"datum.value % 50 == 0","value":-7},"value":-4}}},
    "x": {"field": "b", "type": "quantitative", "stack": null, "scale": {"domain": [0,0.1], "nice": false}, "axis": {"orient":"bottom","values":[0,0.005,0.01,0.015,0.02,0.025,0.03,0.035,0.04,0.045,0.05,0.055,0.06,0.065,0.07,0.075,0.08,0.085,0.09,0.095,0.1],"labels":false,"domain":false,"title":null,"tickSize":{"condition":{"test":"round(datum.value*1000) % 20 == 0","value":-7},"value":-4}}}}},
  {"data": {"name": "bands"}, "transform": [{"filter": "datum.p == 3"}], "mark": {"type": "area", "orient": "horizontal", "clip": true, "color": "#bebebe", "stroke": "#9a9a9a", "strokeWidth": 1},
   "encoding": {"y": {"field": "y", "type": "quantitative", "scale": {"domain": [-180,180], "nice": false}, "axis": {"orient":"right","values":[-180,-170,-160,-150,-140,-130,-120,-110,-100,-90,-80,-70,-60,-50,-40,-30,-20,-10,0,10,20,30,40,50,60,70,80,90,100,110,120,130,140,150,160,170,180],"labels":false,"domain":false,"title":null,"tickSize":{"condition":{"test":"datum.value % 50 == 0","value":-7},"value":-4}}},
    "x": {"field": "a", "type": "quantitative", "stack": null, "scale": {"domain": [0,0.1], "nice": false}, "axis": {"orient":"top","values":[0,0.005,0.01,0.015,0.02,0.025,0.03,0.035,0.04,0.045,0.05,0.055,0.06,0.065,0.07,0.075,0.08,0.085,0.09,0.095,0.1],"labels":false,"domain":false,"title":null,"tickSize":{"condition":{"test":"round(datum.value*1000) % 20 == 0","value":-7},"value":-4}}}}},
  {"data": {"name": "lines"}, "transform": [{"filter": "datum.p == 3"}], "mark": {"type": "rule", "color": "#ff0000", "strokeDash": [9,6], "strokeWidth": 2},
   "encoding": {"x": {"field": "x", "type": "quantitative", "scale": {"domain": [0,0.1], "nice": false}, "axis": null}}}
 ]},
{"width": 398, "height": 398, "resolve": {"axis": {"x": "independent", "y": "independent"}},
 "layer": [
  {"data": {"name": "bands"}, "transform": [{"filter": "datum.p == 4"}], "mark": {"type": "area", "orient": "horizontal", "clip": true, "color": "#00ffff"},
   "encoding": {"y": {"field": "y", "type": "quantitative", "scale": {"domain": [-180,180], "nice": false}, "axis": {"orient":"left","values":[-150,-100,-50,0,50,100,150],"ticks":false,"domain":false,"labelPadding":10,"labelFlush":false,"labelOverlap":false,"title":"ϕˢₑₑ [°]","titlePadding":24}},
    "x": {"field": "c", "type": "quantitative", "stack": null, "scale": {"domain": [0,0.1], "nice": false}, "axis": {"orient":"bottom","values":[0,0.02,0.04,0.06,0.08,0.1],"format":".2f","ticks":false,"domain":false,"labelPadding":7,"labelFlush":false,"labelOverlap":false,"title":"|ϵˢₑₑ|","titlePadding":28}}}},
  {"data": {"name": "bands"}, "transform": [{"filter": "datum.p == 4"}], "mark": {"type": "area", "orient": "horizontal", "clip": true, "color": "#ffbfff"},
   "encoding": {"y": {"field": "y", "type": "quantitative", "scale": {"domain": [-180,180], "nice": false}, "axis": {"orient":"left","values":[-180,-170,-160,-150,-140,-130,-120,-110,-100,-90,-80,-70,-60,-50,-40,-30,-20,-10,0,10,20,30,40,50,60,70,80,90,100,110,120,130,140,150,160,170,180],"labels":false,"domain":false,"title":null,"tickSize":{"condition":{"test":"datum.value % 50 == 0","value":-7},"value":-4}}},
    "x": {"field": "b", "type": "quantitative", "stack": null, "scale": {"domain": [0,0.1], "nice": false}, "axis": {"orient":"bottom","values":[0,0.005,0.01,0.015,0.02,0.025,0.03,0.035,0.04,0.045,0.05,0.055,0.06,0.065,0.07,0.075,0.08,0.085,0.09,0.095,0.1],"labels":false,"domain":false,"title":null,"tickSize":{"condition":{"test":"round(datum.value*1000) % 20 == 0","value":-7},"value":-4}}}}},
  {"data": {"name": "bands"}, "transform": [{"filter": "datum.p == 4"}], "mark": {"type": "area", "orient": "horizontal", "clip": true, "color": "#bebebe", "stroke": "#9a9a9a", "strokeWidth": 1},
   "encoding": {"y": {"field": "y", "type": "quantitative", "scale": {"domain": [-180,180], "nice": false}, "axis": {"orient":"right","values":[-180,-170,-160,-150,-140,-130,-120,-110,-100,-90,-80,-70,-60,-50,-40,-30,-20,-10,0,10,20,30,40,50,60,70,80,90,100,110,120,130,140,150,160,170,180],"labels":false,"domain":false,"title":null,"tickSize":{"condition":{"test":"datum.value % 50 == 0","value":-7},"value":-4}}},
    "x": {"field": "a", "type": "quantitative", "stack": null, "scale": {"domain": [0,0.1], "nice": false}, "axis": {"orient":"top","values":[0,0.005,0.01,0.015,0.02,0.025,0.03,0.035,0.04,0.045,0.05,0.055,0.06,0.065,0.07,0.075,0.08,0.085,0.09,0.095,0.1],"labels":false,"domain":false,"title":null,"tickSize":{"condition":{"test":"round(datum.value*1000) % 20 == 0","value":-7},"value":-4}}}}},
  {"data": {"name": "lines"}, "transform": [{"filter": "datum.p == 4"}], "mark": {"type": "rule", "color": "#ff0000", "strokeDash": [9,6], "strokeWidth": 2},
   "encoding": {"x": {"field": "x", "type": "quantitative", "scale": {"domain": [0,0.1], "nice": false}, "axis": null}}}
 ]},
{"width": 398, "height": 398, "resolve": {"axis": {"x": "independent", "y": "independent"}},
 "layer": [
  {"data": {"name": "bands"}, "transform": [{"filter": "datum.p == 5"}], "mark": {"type": "area", "orient": "horizontal", "clip": true, "color": "#00ffff"},
   "encoding": {"y": {"field": "y", "type": "quantitative", "scale": {"domain": [-180,180], "nice": false}, "axis": {"orient":"left","values":[-150,-100,-50,0,50,100,150],"ticks":false,"domain":false,"labelPadding":10,"labelFlush":false,"labelOverlap":false,"title":"ϕˢμμ [°]","titlePadding":24}},
    "x": {"field": "c", "type": "quantitative", "stack": null, "scale": {"domain": [0,0.1], "nice": false}, "axis": {"orient":"bottom","values":[0,0.02,0.04,0.06,0.08,0.1],"format":".2f","ticks":false,"domain":false,"labelPadding":7,"labelFlush":false,"labelOverlap":false,"title":"|ϵˢμμ|","titlePadding":28}}}},
  {"data": {"name": "bands"}, "transform": [{"filter": "datum.p == 5"}], "mark": {"type": "area", "orient": "horizontal", "clip": true, "color": "#ffbfff"},
   "encoding": {"y": {"field": "y", "type": "quantitative", "scale": {"domain": [-180,180], "nice": false}, "axis": {"orient":"left","values":[-180,-170,-160,-150,-140,-130,-120,-110,-100,-90,-80,-70,-60,-50,-40,-30,-20,-10,0,10,20,30,40,50,60,70,80,90,100,110,120,130,140,150,160,170,180],"labels":false,"domain":false,"title":null,"tickSize":{"condition":{"test":"datum.value % 50 == 0","value":-7},"value":-4}}},
    "x": {"field": "b", "type": "quantitative", "stack": null, "scale": {"domain": [0,0.1], "nice": false}, "axis": {"orient":"bottom","values":[0,0.005,0.01,0.015,0.02,0.025,0.03,0.035,0.04,0.045,0.05,0.055,0.06,0.065,0.07,0.075,0.08,0.085,0.09,0.095,0.1],"labels":false,"domain":false,"title":null,"tickSize":{"condition":{"test":"round(datum.value*1000) % 20 == 0","value":-7},"value":-4}}}}},
  {"data": {"name": "bands"}, "transform": [{"filter": "datum.p == 5"}], "mark": {"type": "area", "orient": "horizontal", "clip": true, "color": "#bebebe", "stroke": "#e040e0", "strokeWidth": 1},
   "encoding": {"y": {"field": "y", "type": "quantitative", "scale": {"domain": [-180,180], "nice": false}, "axis": {"orient":"right","values":[-180,-170,-160,-150,-140,-130,-120,-110,-100,-90,-80,-70,-60,-50,-40,-30,-20,-10,0,10,20,30,40,50,60,70,80,90,100,110,120,130,140,150,160,170,180],"labels":false,"domain":false,"title":null,"tickSize":{"condition":{"test":"datum.value % 50 == 0","value":-7},"value":-4}}},
    "x": {"field": "a", "type": "quantitative", "stack": null, "scale": {"domain": [0,0.1], "nice": false}, "axis": {"orient":"top","values":[0,0.005,0.01,0.015,0.02,0.025,0.03,0.035,0.04,0.045,0.05,0.055,0.06,0.065,0.07,0.075,0.08,0.085,0.09,0.095,0.1],"labels":false,"domain":false,"title":null,"tickSize":{"condition":{"test":"round(datum.value*1000) % 20 == 0","value":-7},"value":-4}}}}},
  {"data": {"name": "lines"}, "transform": [{"filter": "datum.p == 5"}], "mark": {"type": "rule", "color": "#ff0000", "strokeDash": [9,6], "strokeWidth": 2},
   "encoding": {"x": {"field": "x", "type": "quantitative", "scale": {"domain": [0,0.1], "nice": false}, "axis": null}}}
 ]},
{"width": 398, "height": 398, "resolve": {"axis": {"x": "independent", "y": "independent"}},
 "layer": [
  {"data": {"name": "bands"}, "transform": [{"filter": "datum.p == 6"}], "mark": {"type": "area", "orient": "horizontal", "clip": true, "color": "#00ffff"},
   "encoding": {"y": {"field": "y", "type": "quantitative", "scale": {"domain": [-180,180], "nice": false}, "axis": {"orient":"left","values":[-150,-100,-50,0,50,100,150],"ticks":false,"domain":false,"labelPadding":10,"labelFlush":false,"labelOverlap":false,"title":"ϕˢμτ [°]","titlePadding":24}},
    "x": {"field": "c", "type": "quantitative", "stack": null, "scale": {"domain": [0,0.1], "nice": false}, "axis": {"orient":"bottom","values":[0,0.02,0.04,0.06,0.08,0.1],"format":".2f","ticks":false,"domain":false,"labelPadding":7,"labelFlush":false,"labelOverlap":false,"title":"|ϵˢμτ|","titlePadding":28}}}},
  {"data": {"name": "bands"}, "transform": [{"filter": "datum.p == 6"}], "mark": {"type": "area", "orient": "horizontal", "clip": true, "color": "#ffbfff"},
   "encoding": {"y": {"field": "y", "type": "quantitative", "scale": {"domain": [-180,180], "nice": false}, "axis": {"orient":"left","values":[-180,-170,-160,-150,-140,-130,-120,-110,-100,-90,-80,-70,-60,-50,-40,-30,-20,-10,0,10,20,30,40,50,60,70,80,90,100,110,120,130,140,150,160,170,180],"labels":false,"domain":false,"title":null,"tickSize":{"condition":{"test":"datum.value % 50 == 0","value":-7},"value":-4}}},
    "x": {"field": "b", "type": "quantitative", "stack": null, "scale": {"domain": [0,0.1], "nice": false}, "axis": {"orient":"bottom","values":[0,0.005,0.01,0.015,0.02,0.025,0.03,0.035,0.04,0.045,0.05,0.055,0.06,0.065,0.07,0.075,0.08,0.085,0.09,0.095,0.1],"labels":false,"domain":false,"title":null,"tickSize":{"condition":{"test":"round(datum.value*1000) % 20 == 0","value":-7},"value":-4}}}}},
  {"data": {"name": "bands"}, "transform": [{"filter": "datum.p == 6"}], "mark": {"type": "area", "orient": "horizontal", "clip": true, "color": "#bebebe", "stroke": "#e040e0", "strokeWidth": 1},
   "encoding": {"y": {"field": "y", "type": "quantitative", "scale": {"domain": [-180,180], "nice": false}, "axis": {"orient":"right","values":[-180,-170,-160,-150,-140,-130,-120,-110,-100,-90,-80,-70,-60,-50,-40,-30,-20,-10,0,10,20,30,40,50,60,70,80,90,100,110,120,130,140,150,160,170,180],"labels":false,"domain":false,"title":null,"tickSize":{"condition":{"test":"datum.value % 50 == 0","value":-7},"value":-4}}},
    "x": {"field": "a", "type": "quantitative", "stack": null, "scale": {"domain": [0,0.1], "nice": false}, "axis": {"orient":"top","values":[0,0.005,0.01,0.015,0.02,0.025,0.03,0.035,0.04,0.045,0.05,0.055,0.06,0.065,0.07,0.075,0.08,0.085,0.09,0.095,0.1],"labels":false,"domain":false,"title":null,"tickSize":{"condition":{"test":"round(datum.value*1000) % 20 == 0","value":-7},"value":-4}}}}},
  {"data": {"name": "lines"}, "transform": [{"filter": "datum.p == 6"}], "mark": {"type": "rule", "color": "#ff0000", "strokeDash": [9,6], "strokeWidth": 2},
   "encoding": {"x": {"field": "x", "type": "quantitative", "scale": {"domain": [0,0.1], "nice": false}, "axis": null}}}
 ]},
{"width": 398, "height": 398, "resolve": {"axis": {"x": "independent", "y": "independent"}},
 "layer": [
  {"data": {"name": "bands"}, "transform": [{"filter": "datum.p == 7"}], "mark": {"type": "area", "orient": "horizontal", "clip": true, "color": "#00ffff"},
   "encoding": {"y": {"field": "y", "type": "quantitative", "scale": {"domain": [-180,180], "nice": false}, "axis": {"orient":"left","values":[-150,-100,-50,0,50,100,150],"ticks":false,"domain":false,"labelPadding":10,"labelFlush":false,"labelOverlap":false,"title":"ϕˢₑμ [°]","titlePadding":24}},
    "x": {"field": "c", "type": "quantitative", "stack": null, "scale": {"domain": [0,0.1], "nice": false}, "axis": {"orient":"bottom","values":[0,0.02,0.04,0.06,0.08,0.1],"format":".2f","ticks":false,"domain":false,"labelPadding":7,"labelFlush":false,"labelOverlap":false,"title":"|ϵˢₑμ|","titlePadding":28}}}},
  {"data": {"name": "bands"}, "transform": [{"filter": "datum.p == 7"}], "mark": {"type": "area", "orient": "horizontal", "clip": true, "color": "#ffbfff"},
   "encoding": {"y": {"field": "y", "type": "quantitative", "scale": {"domain": [-180,180], "nice": false}, "axis": {"orient":"left","values":[-180,-170,-160,-150,-140,-130,-120,-110,-100,-90,-80,-70,-60,-50,-40,-30,-20,-10,0,10,20,30,40,50,60,70,80,90,100,110,120,130,140,150,160,170,180],"labels":false,"domain":false,"title":null,"tickSize":{"condition":{"test":"datum.value % 50 == 0","value":-7},"value":-4}}},
    "x": {"field": "b", "type": "quantitative", "stack": null, "scale": {"domain": [0,0.1], "nice": false}, "axis": {"orient":"bottom","values":[0,0.005,0.01,0.015,0.02,0.025,0.03,0.035,0.04,0.045,0.05,0.055,0.06,0.065,0.07,0.075,0.08,0.085,0.09,0.095,0.1],"labels":false,"domain":false,"title":null,"tickSize":{"condition":{"test":"round(datum.value*1000) % 20 == 0","value":-7},"value":-4}}}}},
  {"data": {"name": "bands"}, "transform": [{"filter": "datum.p == 7"}], "mark": {"type": "area", "orient": "horizontal", "clip": true, "color": "#bebebe", "stroke": "#9a9a9a", "strokeWidth": 1},
   "encoding": {"y": {"field": "y", "type": "quantitative", "scale": {"domain": [-180,180], "nice": false}, "axis": {"orient":"right","values":[-180,-170,-160,-150,-140,-130,-120,-110,-100,-90,-80,-70,-60,-50,-40,-30,-20,-10,0,10,20,30,40,50,60,70,80,90,100,110,120,130,140,150,160,170,180],"labels":false,"domain":false,"title":null,"tickSize":{"condition":{"test":"datum.value % 50 == 0","value":-7},"value":-4}}},
    "x": {"field": "a", "type": "quantitative", "stack": null, "scale": {"domain": [0,0.1], "nice": false}, "axis": {"orient":"top","values":[0,0.005,0.01,0.015,0.02,0.025,0.03,0.035,0.04,0.045,0.05,0.055,0.06,0.065,0.07,0.075,0.08,0.085,0.09,0.095,0.1],"labels":false,"domain":false,"title":null,"tickSize":{"condition":{"test":"round(datum.value*1000) % 20 == 0","value":-7},"value":-4}}}}},
  {"data": {"name": "lines"}, "transform": [{"filter": "datum.p == 7"}], "mark": {"type": "rule", "color": "#ff0000", "strokeDash": [9,6], "strokeWidth": 2},
   "encoding": {"x": {"field": "x", "type": "quantitative", "scale": {"domain": [0,0.1], "nice": false}, "axis": null}}}
 ]},
{"width": 398, "height": 398, "resolve": {"axis": {"x": "independent", "y": "independent"}},
 "layer": [
  {"data": {"name": "bands"}, "transform": [{"filter": "datum.p == 8"}], "mark": {"type": "area", "orient": "horizontal", "clip": true, "color": "#00ffff"},
   "encoding": {"y": {"field": "y", "type": "quantitative", "scale": {"domain": [-180,180], "nice": false}, "axis": {"orient":"left","values":[-150,-100,-50,0,50,100,150],"ticks":false,"domain":false,"labelPadding":10,"labelFlush":false,"labelOverlap":false,"title":"ϕˢₑτ [°]","titlePadding":24}},
    "x": {"field": "c", "type": "quantitative", "stack": null, "scale": {"domain": [0,0.1], "nice": false}, "axis": {"orient":"bottom","values":[0,0.02,0.04,0.06,0.08,0.1],"format":".2f","ticks":false,"domain":false,"labelPadding":7,"labelFlush":false,"labelOverlap":false,"title":"|ϵˢₑτ|","titlePadding":28}}}},
  {"data": {"name": "bands"}, "transform": [{"filter": "datum.p == 8"}], "mark": {"type": "area", "orient": "horizontal", "clip": true, "color": "#ffbfff"},
   "encoding": {"y": {"field": "y", "type": "quantitative", "scale": {"domain": [-180,180], "nice": false}, "axis": {"orient":"left","values":[-180,-170,-160,-150,-140,-130,-120,-110,-100,-90,-80,-70,-60,-50,-40,-30,-20,-10,0,10,20,30,40,50,60,70,80,90,100,110,120,130,140,150,160,170,180],"labels":false,"domain":false,"title":null,"tickSize":{"condition":{"test":"datum.value % 50 == 0","value":-7},"value":-4}}},
    "x": {"field": "b", "type": "quantitative", "stack": null, "scale": {"domain": [0,0.1], "nice": false}, "axis": {"orient":"bottom","values":[0,0.005,0.01,0.015,0.02,0.025,0.03,0.035,0.04,0.045,0.05,0.055,0.06,0.065,0.07,0.075,0.08,0.085,0.09,0.095,0.1],"labels":false,"domain":false,"title":null,"tickSize":{"condition":{"test":"round(datum.value*1000) % 20 == 0","value":-7},"value":-4}}}}},
  {"data": {"name": "bands"}, "transform": [{"filter": "datum.p == 8"}], "mark": {"type": "area", "orient": "horizontal", "clip": true, "color": "#bebebe", "stroke": "#9a9a9a", "strokeWidth": 1},
   "encoding": {"y": {"field": "y", "type": "quantitative", "scale": {"domain": [-180,180], "nice": false}, "axis": {"orient":"right","values":[-180,-170,-160,-150,-140,-130,-120,-110,-100,-90,-80,-70,-60,-50,-40,-30,-20,-10,0,10,20,30,40,50,60,70,80,90,100,110,120,130,140,150,160,170,180],"labels":false,"domain":false,"title":null,"tickSize":{"condition":{"test":"datum.value % 50 == 0","value":-7},"value":-4}}},
    "x": {"field": "a", "type": "quantitative", "stack": null, "scale": {"domain": [0,0.1], "nice": false}, "axis": {"orient":"top","values":[0,0.005,0.01,0.015,0.02,0.025,0.03,0.035,0.04,0.045,0.05,0.055,0.06,0.065,0.07,0.075,0.08,0.085,0.09,0.095,0.1],"labels":false,"domain":false,"title":null,"tickSize":{"condition":{"test":"round(datum.value*1000) % 20 == 0","value":-7},"value":-4}}}}},
  {"data": {"name": "lines"}, "transform": [{"filter": "datum.p == 8"}], "mark": {"type": "rule", "color": "#ff0000", "strokeDash": [9,6], "strokeWidth": 2},
   "encoding": {"x": {"field": "x", "type": "quantitative", "scale": {"domain": [0,0.1], "nice": false}, "axis": null}}}
 ]},
{"width": 398, "height": 398, "resolve": {"axis": {"x": "independent", "y": "independent"}},
 "layer": [
  {"data": {"name": "bands"}, "transform": [{"filter": "datum.p == 9"}], "mark": {"type": "area", "orient": "horizontal", "clip": true, "color": "#00ffff"},
   "encoding": {"y": {"field": "y", "type": "quantitative", "scale": {"domain": [-180,180], "nice": false}, "axis": {"orient":"left","values":[-150,-100,-50,0,50,100,150],"ticks":false,"domain":false,"labelPadding":10,"labelFlush":false,"labelOverlap":false,"title":"ϕᵈₑμ [°]","titlePadding":24}},
    "x": {"field": "c", "type": "quantitative", "stack": null, "scale": {"domain": [0,0.1], "nice": false}, "axis": {"orient":"bottom","values":[0,0.02,0.04,0.06,0.08,0.1],"format":".2f","ticks":false,"domain":false,"labelPadding":7,"labelFlush":false,"labelOverlap":false,"title":"|ϵᵈₑμ|","titlePadding":28}}}},
  {"data": {"name": "bands"}, "transform": [{"filter": "datum.p == 9"}], "mark": {"type": "area", "orient": "horizontal", "clip": true, "color": "#ffbfff"},
   "encoding": {"y": {"field": "y", "type": "quantitative", "scale": {"domain": [-180,180], "nice": false}, "axis": {"orient":"left","values":[-180,-170,-160,-150,-140,-130,-120,-110,-100,-90,-80,-70,-60,-50,-40,-30,-20,-10,0,10,20,30,40,50,60,70,80,90,100,110,120,130,140,150,160,170,180],"labels":false,"domain":false,"title":null,"tickSize":{"condition":{"test":"datum.value % 50 == 0","value":-7},"value":-4}}},
    "x": {"field": "b", "type": "quantitative", "stack": null, "scale": {"domain": [0,0.1], "nice": false}, "axis": {"orient":"bottom","values":[0,0.005,0.01,0.015,0.02,0.025,0.03,0.035,0.04,0.045,0.05,0.055,0.06,0.065,0.07,0.075,0.08,0.085,0.09,0.095,0.1],"labels":false,"domain":false,"title":null,"tickSize":{"condition":{"test":"round(datum.value*1000) % 20 == 0","value":-7},"value":-4}}}}},
  {"data": {"name": "bands"}, "transform": [{"filter": "datum.p == 9"}], "mark": {"type": "area", "orient": "horizontal", "clip": true, "color": "#bebebe", "stroke": "#9a9a9a", "strokeWidth": 1},
   "encoding": {"y": {"field": "y", "type": "quantitative", "scale": {"domain": [-180,180], "nice": false}, "axis": {"orient":"right","values":[-180,-170,-160,-150,-140,-130,-120,-110,-100,-90,-80,-70,-60,-50,-40,-30,-20,-10,0,10,20,30,40,50,60,70,80,90,100,110,120,130,140,150,160,170,180],"labels":false,"domain":false,"title":null,"tickSize":{"condition":{"test":"datum.value % 50 == 0","value":-7},"value":-4}}},
    "x": {"field": "a", "type": "quantitative", "stack": null, "scale": {"domain": [0,0.1], "nice": false}, "axis": {"orient":"top","values":[0,0.005,0.01,0.015,0.02,0.025,0.03,0.035,0.04,0.045,0.05,0.055,0.06,0.065,0.07,0.075,0.08,0.085,0.09,0.095,0.1],"labels":false,"domain":false,"title":null,"tickSize":{"condition":{"test":"round(datum.value*1000) % 20 == 0","value":-7},"value":-4}}}}},
  {"data": {"name": "lines"}, "transform": [{"filter": "datum.p == 9"}], "mark": {"type": "rule", "color": "#ff0000", "strokeDash": [9,6], "strokeWidth": 2},
   "encoding": {"x": {"field": "x", "type": "quantitative", "scale": {"domain": [0,0.1], "nice": false}, "axis": null}}}
 ]}
]
}
